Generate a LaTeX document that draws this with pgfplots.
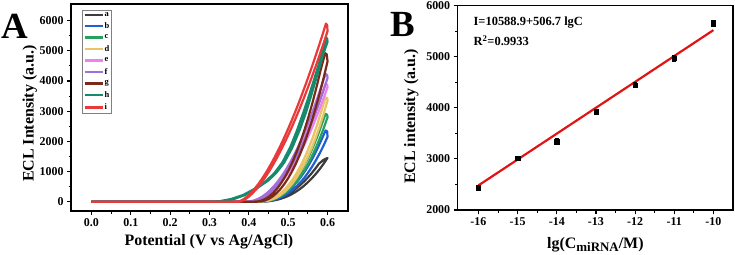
\documentclass[border=0pt]{standalone}
\usepackage{fontspec}
\setmainfont{Liberation Serif}
\usepackage{pgfplots}
\pgfplotsset{compat=1.18}
\definecolor{ca}{RGB}{60,60,60}
\definecolor{cb}{RGB}{30,95,210}
\definecolor{cc}{RGB}{40,160,95}
\definecolor{cd}{RGB}{232,196,104}
\definecolor{ce}{RGB}{240,128,240}
\definecolor{cf}{RGB}{160,112,216}
\definecolor{cg}{RGB}{123,42,26}
\definecolor{ch}{RGB}{23,138,110}
\definecolor{ci}{RGB}{232,58,58}
\definecolor{fitred}{RGB}{225,20,20}
\pgfplotsset{
  mystyle/.style={
    scale only axis,
    axis line style={line width=1.3pt},
    tick align=outside,
    tick pos=left,
    major tick length=4bp,
    minor tick length=2.5bp,
    every tick/.style={black,line width=1.1pt},
    /pgf/number format/assume math mode=true,
    /pgf/number format/set thousands separator={},
    tick label style={font=\fontsize{12}{13}\selectfont\bfseries},
    label style={font=\fontsize{16}{18}\selectfont\bfseries},
  }
}
\begin{document}
\begin{tikzpicture}[x=1bp,y=1bp]
\useasboundingbox (0,0) rectangle (735,254);
\node[font=\fontsize{37}{40}\selectfont\bfseries] at (15,228) {A};
\node[font=\fontsize{37}{40}\selectfont\bfseries] at (403,230) {B};
\begin{axis}[mystyle,
  at={(71bp,43bp)}, anchor=south west,
  width=277bp, height=207bp,
  xmin=-0.052, xmax=0.652, ymin=-308, ymax=6553,
  xtick={0,0.1,0.2,0.3,0.4,0.5,0.6},
  ytick={0,1000,2000,3000,4000,5000,6000},
  minor x tick num=1, minor y tick num=1,
  xticklabel style={/pgf/number format/.cd, fixed, fixed zerofill, precision=1},
  xlabel={Potential (V vs Ag/AgCl)},
  ylabel={ECL Intensity (a.u.)},
  xlabel style={at={(axis description cs:0.498,-0.166)}, anchor=base},
  ylabel style={at={(axis description cs:-0.135,0.47)}, anchor=base},
  every axis plot/.append style={line width=2.2pt, line join=round},
  legend style={at={(axis description cs:0.04,0.971)}, anchor=north west,
    draw=gray, line width=0.5pt, font=\fontsize{8.5}{9}\selectfont\bfseries,
    inner sep=1pt, row sep=3.4bp, nodes={inner sep=0.8pt}},
  legend cell align=left,
  legend image code/.code={\draw[#1, line width=2.4pt] (0bp,0bp) -- (18bp,0bp);},
]
\addplot[ca] coordinates {(0,0) (0.42,0) (0.43,1) (0.44,6) (0.45,16) (0.46,34) (0.47,59) (0.48,93) (0.49,137) (0.50,191) (0.51,256) (0.52,334) (0.53,423) (0.54,526) (0.55,643) (0.56,774) (0.57,919) (0.58,1080) (0.59,1257) (0.60,1450) (0.59,1390) (0.578,1257) (0.568,1080) (0.558,919) (0.548,774) (0.538,643) (0.528,526) (0.518,423) (0.508,334) (0.498,256) (0.488,191) (0.478,137) (0.468,93) (0.458,59) (0.448,34) (0.438,16) (0.428,6) (0.418,1) (0.41,0) (0,0)};
\addlegendentry{a}
\addplot[cb] coordinates {(0,0) (0.42,0) (0.43,2) (0.44,9) (0.45,24) (0.46,50) (0.47,87) (0.48,138) (0.49,203) (0.50,283) (0.51,380) (0.52,495) (0.53,628) (0.54,780) (0.55,953) (0.56,1147) (0.57,1363) (0.58,1602) (0.59,1864) (0.60,2150) (0.599,2330) (0.595,2360) (0.584,2037) (0.574,1751) (0.564,1490) (0.554,1254) (0.544,1042) (0.534,853) (0.524,686) (0.514,541) (0.504,415) (0.494,310) (0.484,222) (0.474,151) (0.464,96) (0.454,55) (0.444,27) (0.434,10) (0.424,2) (0.414,0) (0,0)};
\addlegendentry{b}
\addplot[cc] coordinates {(0,0) (0.42,0) (0.43,2) (0.44,12) (0.45,32) (0.46,65) (0.47,114) (0.48,180) (0.49,264) (0.50,369) (0.51,495) (0.52,644) (0.53,818) (0.54,1016) (0.55,1241) (0.56,1494) (0.57,1775) (0.58,2086) (0.59,2427) (0.60,2800) (0.599,2880) (0.595,2910) (0.584,2514) (0.574,2160) (0.564,1838) (0.554,1547) (0.544,1286) (0.534,1052) (0.524,847) (0.514,667) (0.504,513) (0.494,382) (0.484,274) (0.474,186) (0.464,118) (0.454,68) (0.444,33) (0.434,12) (0.424,2) (0.414,0) (0,0)};
\addlegendentry{c}
\addplot[cd] coordinates {(0,0) (0.42,0) (0.43,2) (0.44,14) (0.45,38) (0.46,78) (0.47,136) (0.48,215) (0.49,316) (0.50,441) (0.51,592) (0.52,771) (0.53,978) (0.54,1216) (0.55,1485) (0.56,1787) (0.57,2124) (0.58,2495) (0.59,2904) (0.60,3350) (0.599,3430) (0.595,3455) (0.584,2990) (0.574,2570) (0.564,2187) (0.554,1841) (0.544,1529) (0.534,1252) (0.524,1007) (0.514,794) (0.504,610) (0.494,454) (0.484,325) (0.474,221) (0.464,140) (0.454,80) (0.444,39) (0.434,14) (0.424,3) (0.414,0) (0,0)};
\addlegendentry{d}
\addplot[ce] coordinates {(0,0) (0.40,0) (0.41,10) (0.42,38) (0.43,86) (0.44,152) (0.45,238) (0.46,342) (0.47,466) (0.48,608) (0.49,770) (0.50,950) (0.51,1150) (0.52,1368) (0.53,1606) (0.54,1862) (0.55,2138) (0.56,2432) (0.57,2746) (0.58,3078) (0.59,3430) (0.60,3800) (0.599,3880) (0.595,3905) (0.584,3520) (0.574,3159) (0.564,2818) (0.554,2496) (0.544,2194) (0.534,1911) (0.524,1648) (0.514,1404) (0.504,1180) (0.494,975) (0.484,790) (0.474,624) (0.464,478) (0.454,351) (0.444,244) (0.434,156) (0.424,88) (0.414,39) (0.404,10) (0.394,0) (0,0)};
\addlegendentry{e}
\addplot[cf] coordinates {(0,0) (0.40,0) (0.41,10) (0.42,41) (0.43,92) (0.44,164) (0.45,256) (0.46,369) (0.47,502) (0.48,656) (0.49,830) (0.50,1025) (0.51,1240) (0.52,1476) (0.53,1732) (0.54,2009) (0.55,2306) (0.56,2624) (0.57,2962) (0.58,3321) (0.59,3700) (0.60,4100) (0.599,4200) (0.595,4235) (0.584,3818) (0.574,3426) (0.564,3056) (0.554,2707) (0.544,2379) (0.534,2073) (0.524,1787) (0.514,1523) (0.504,1279) (0.494,1058) (0.484,857) (0.474,677) (0.464,518) (0.454,381) (0.444,264) (0.434,169) (0.424,95) (0.414,42) (0.404,11) (0.394,0) (0,0)};
\addlegendentry{f}
\addplot[cg] coordinates {(0,0) (0.42,0) (0.43,8) (0.44,37) (0.45,90) (0.46,170) (0.47,278) (0.48,415) (0.49,582) (0.50,781) (0.51,1013) (0.52,1275) (0.53,1574) (0.54,1906) (0.55,2272) (0.56,2675) (0.57,3113) (0.58,3589) (0.59,4102) (0.60,4650) (0.598,4880) (0.594,4925) (0.582,4340) (0.572,3798) (0.562,3293) (0.552,2830) (0.542,2404) (0.532,2016) (0.522,1665) (0.512,1350) (0.502,1072) (0.492,826) (0.482,616) (0.472,439) (0.462,294) (0.452,180) (0.442,96) (0.432,39) (0.422,9) (0.412,0) (0,0)};
\addlegendentry{g}
\addplot[ch] coordinates {(0,0) (0.30,0) (0.33,15) (0.36,80) (0.39,220) (0.42,440) (0.45,710) (0.47,960) (0.49,1300) (0.51,1780) (0.53,2400) (0.545,2950) (0.558,3500) (0.575,4250) (0.588,4850) (0.60,5300) (0.599,5410) (0.596,5440) (0.582,4750) (0.567,4100) (0.55,3400) (0.537,2900) (0.522,2350) (0.505,1800) (0.485,1300) (0.465,950) (0.445,700) (0.415,430) (0.385,220) (0.355,90) (0.325,15) (0.30,0) (0,0)};
\addlegendentry{h}
\addplot[ci] coordinates {(0,0) (0.375,0) (0.38,13) (0.39,74) (0.40,168) (0.41,288) (0.42,431) (0.43,593) (0.44,775) (0.45,974) (0.46,1190) (0.47,1422) (0.48,1669) (0.49,1931) (0.50,2206) (0.51,2495) (0.52,2797) (0.53,3112) (0.54,3440) (0.55,3779) (0.56,4130) (0.57,4493) (0.58,4868) (0.59,5253) (0.60,5650) (0.599,5850) (0.596,5905) (0.586,5486) (0.576,5083) (0.566,4692) (0.556,4313) (0.546,3946) (0.536,3592) (0.526,3250) (0.516,2920) (0.506,2604) (0.496,2304) (0.486,2016) (0.476,1743) (0.466,1485) (0.456,1243) (0.446,1017) (0.436,809) (0.426,620) (0.416,450) (0.406,300) (0.396,175) (0.386,77) (0.376,13) (0.371,0) (0,0)};
\addlegendentry{i}
\end{axis}
\begin{axis}[mystyle,
  at={(457.7bp,44bp)}, anchor=south west,
  width=275.3bp, height=204.3bp,
  xmin=-16.53, xmax=-9.5, ymin=2000, ymax=6000,
  xtick={-16,-15,-14,-13,-12,-11,-10},
  ytick={2000,3000,4000,5000,6000},
  minor x tick num=1, minor y tick num=1,
  xlabel={lg(C\raisebox{-0.5ex}{\fontsize{13}{14}\selectfont miRNA}/M)},
  ylabel={ECL intensity (a.u.)},
  xlabel style={at={(axis description cs:0.5,-0.186)}, anchor=base},
  ylabel style={at={(axis description cs:-0.155,0.457)}, anchor=base},
]
\addplot[fitred, line width=2.2pt] coordinates {(-16,2481.7) (-10,5521.9)};
\addplot[only marks, mark=square*, mark size=2.2pt, black,
  error bars/.cd, y dir=both, y explicit,
  error bar style={line width=0.8pt, black},
  error mark options={rotate=90, mark size=2.2pt, line width=0.8pt, black}]
  coordinates {
  (-16,2440) +- (0,40)
  (-15,3010) +- (0,30)
  (-14,3335) +- (0,60)
  (-13,3922) +- (0,40)
  (-12,4446) +- (0,45)
  (-11,4975) +- (0,60)
  (-10,5650) +- (0,55)
};
\node[anchor=base west, font=\fontsize{12.5}{13}\selectfont\bfseries] at (axis description cs:0.045,0.905) {I=10588.9+506.7 lgC};
\node[anchor=base west, font=\fontsize{12.5}{13}\selectfont\bfseries] at (axis description cs:0.045,0.803) {R\textsuperscript{2}=0.9933};
\end{axis}
\end{tikzpicture}
\end{document}
